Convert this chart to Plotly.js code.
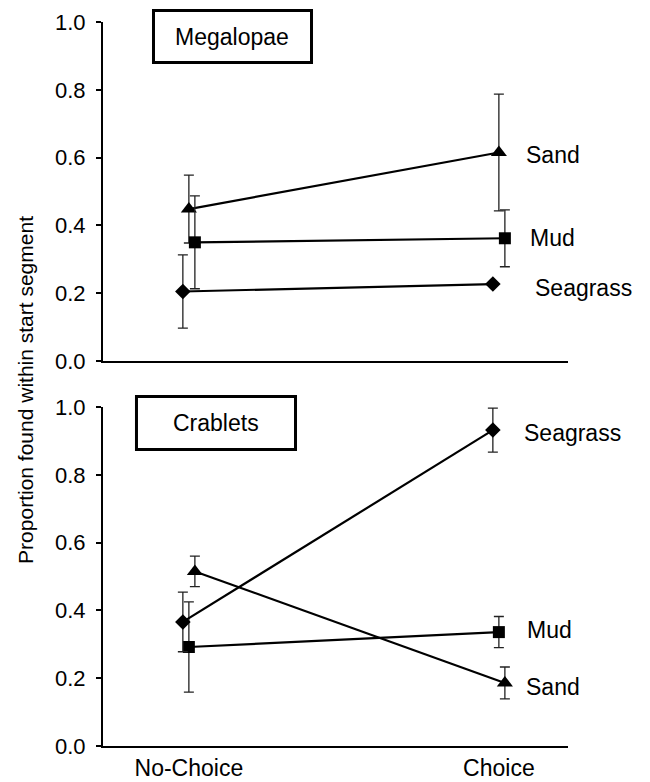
<!DOCTYPE html>
<html>
<head>
<meta charset="utf-8">
<script src="https://cdn.plot.ly/plotly-3.0.1.min.js"></script>
<style>html,body{margin:0;padding:0;background:#fff;}#chart{width:650px;height:782px;}</style>
</head>
<body>
<div id="chart"></div>
<script>
// ---- data ----
const categories = ['No-Choice', 'Choice'];
const panelNames = ['Megalopae', 'Crablets'];
const seriesNames = ['Sand', 'Mud', 'Seagrass'];
const yTickVals = [0, 0.2, 0.4, 0.6, 0.8, 1.0];
const yTickText = ['0.0', '0.2', '0.4', '0.6', '0.8', '1.0'];
const yTitle = 'Proportion found within start segment';

const megalopaeSand = [0.448, 0.615];
const megalopaeSandErr = [0.100, 0.172];
const megalopaeMud = [0.350, 0.362];
const megalopaeMudErr = [0.137, 0.084];
const megalopaeSeagrass = [0.205, 0.227];
const megalopaeSeagrassErr = [0.108, null];

const crabletsSand = [0.515, 0.186];
const crabletsSandErr = [0.045, 0.047];
const crabletsMud = [0.292, 0.336];
const crabletsMudErr = [0.133, 0.046];
const crabletsSeagrass = [0.366, 0.932];
const crabletsSeagrassErr = [0.088, 0.065];

// ---- style ----
const FONT = 'Liberation Sans, Arial, sans-serif';
const symbols = {Sand: 'triangle-up', Mud: 'square', Seagrass: 'diamond'};
const sizes = {Sand: 14, Mud: 12, Seagrass: 12};
const step = 0.0194;
const offsets = [
  {Sand: 0, Mud: 1, Seagrass: -1},
  {Sand: 1, Mud: 0, Seagrass: -1}
];
const labelPos = [
  {Sand: [2.081, 0.608], Mud: [2.094, 0.363], Seagrass: [2.11, 0.215]},
  {Sand: [2.081, 0.174], Mud: [2.084, 0.342], Seagrass: [2.074, 0.923]}
];

const panelData = [
  {Sand: [megalopaeSand, megalopaeSandErr], Mud: [megalopaeMud, megalopaeMudErr], Seagrass: [megalopaeSeagrass, megalopaeSeagrassErr]},
  {Sand: [crabletsSand, crabletsSandErr], Mud: [crabletsMud, crabletsMudErr], Seagrass: [crabletsSeagrass, crabletsSeagrassErr]}
];

const traces = [];
const annotations = [];
panelData.forEach((pd, p) => {
  const xa = p === 0 ? 'x' : 'x2';
  const ya = p === 0 ? 'y' : 'y2';
  seriesNames.forEach(name => {
    const vals = pd[name][0], errs = pd[name][1];
    traces.push({
      type: 'scatter', mode: 'lines+markers',
      x: categories.map((c, i) => i + 1 + offsets[p][name] * step),
      y: vals,
      xaxis: xa, yaxis: ya,
      line: {color: '#000', width: 2.2},
      marker: {symbol: symbols[name], size: sizes[name], color: '#000'},
      error_y: {type: 'data', array: errs, visible: true, color: '#222', thickness: 1.3, width: 5},
      showlegend: false, hoverinfo: 'skip', cliponaxis: false
    });
    annotations.push({
      xref: xa, yref: ya, x: labelPos[p][name][0], y: labelPos[p][name][1],
      xanchor: 'left', yanchor: 'middle', showarrow: false,
      text: name, font: {family: FONT, size: 23, color: '#000'}
    });
  });
});

// panel name boxes
const boxes = [
  {x0: 0.1086, x1: 0.4484, y0: 0.8805, y1: 1.034, tx: 0.277, ty: 0.956},
  {x0: 0.072, x1: 0.414, y0: 0.8746, y1: 1.031, tx: 0.243, ty: 0.953}
];
const shapes = [];
boxes.forEach((b, p) => {
  const xr = p === 0 ? 'x domain' : 'x2 domain';
  const yr = p === 0 ? 'y domain' : 'y2 domain';
  shapes.push({type: 'rect', xref: xr, yref: yr, x0: b.x0, x1: b.x1, y0: b.y0, y1: b.y1,
    line: {color: '#000', width: 3}, fillcolor: 'rgba(0,0,0,0)'});
  annotations.push({xref: xr, yref: yr, x: b.tx, y: b.ty, xanchor: 'center', yanchor: 'middle',
    showarrow: false, text: panelNames[p], font: {family: FONT, size: 23, color: '#000'}});
});

annotations.push({xref: 'paper', yref: 'paper', x: -0.168, y: 0.4917, xanchor: 'center', yanchor: 'middle',
  textangle: -90, showarrow: false, text: yTitle, font: {family: FONT, size: 21, color: '#000'}});

const xBase = {
  range: [0.723, 2.223], showgrid: false, zeroline: false, showline: true,
  linecolor: '#000', linewidth: 2, ticks: '', tickvals: [1, 2], ticktext: categories,
  tickfont: {family: FONT, size: 23, color: '#000'}, fixedrange: true
};
const yBase = {
  range: [0, 1], showgrid: false, zeroline: false, showline: true,
  linecolor: '#000', linewidth: 2, ticks: 'outside', ticklen: 5, tickwidth: 2, tickcolor: '#000',
  tickvals: yTickVals, ticktext: yTickText, ticklabelstandoff: 6,
  tickfont: {family: FONT, size: 22, color: '#000'}, fixedrange: true
};

const layout = {
  width: 650, height: 782,
  margin: {l: 103, r: 82, t: 22, b: 36},
  paper_bgcolor: '#fff', plot_bgcolor: '#fff',
  font: {family: FONT, color: '#000'},
  xaxis: Object.assign({}, xBase, {anchor: 'y', showticklabels: false}),
  yaxis: Object.assign({}, yBase, {domain: [0.5318, 1], anchor: 'x'}),
  xaxis2: Object.assign({}, xBase, {anchor: 'y2'}),
  yaxis2: Object.assign({}, yBase, {domain: [0, 0.4682], anchor: 'x2'}),
  shapes: shapes,
  annotations: annotations,
  showlegend: false
};

Plotly.newPlot('chart', traces, layout, {staticPlot: true, displayModeBar: false});
</script>
</body>
</html>
